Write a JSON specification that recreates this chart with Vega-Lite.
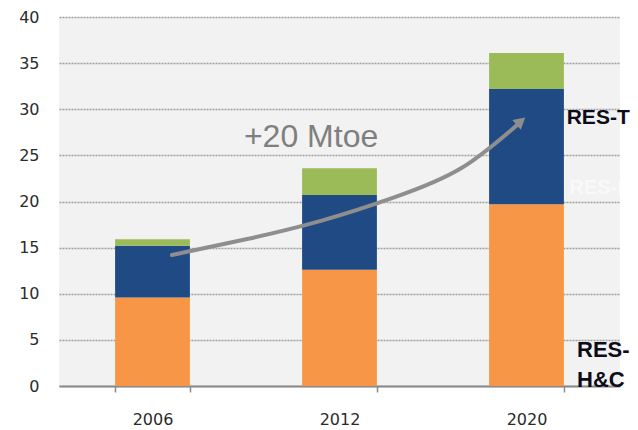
{
  "$schema": "https://vega.github.io/schema/vega-lite/v6.json",
  "width": 561,
  "height": 369,
  "autosize": "none",
  "padding": {"left": 59, "top": 17, "right": 18, "bottom": 44},
  "background": "white",
  "view": {"fill": "#f2f2f2", "stroke": null},
  "datasets": {
    "bars": [
      {"year": "2006", "series": "RES-H&C", "ord": 1, "value": 9.6},
      {"year": "2006", "series": "RES-E", "ord": 2, "value": 5.6},
      {"year": "2006", "series": "RES-T", "ord": 3, "value": 0.7},
      {"year": "2012", "series": "RES-H&C", "ord": 1, "value": 12.6},
      {"year": "2012", "series": "RES-E", "ord": 2, "value": 8.1},
      {"year": "2012", "series": "RES-T", "ord": 3, "value": 2.9},
      {"year": "2020", "series": "RES-H&C", "ord": 1, "value": 19.7},
      {"year": "2020", "series": "RES-E", "ord": 2, "value": 12.5},
      {"year": "2020", "series": "RES-T", "ord": 3, "value": 3.9}
    ],
    "arrow": [
      {"px": 0.604, "py": 14.2},
      {"px": 1.0, "py": 15.9},
      {"px": 1.4, "py": 17.9},
      {"px": 1.8, "py": 20.5},
      {"px": 2.15, "py": 23.6},
      {"px": 2.45, "py": 28.3}
    ],
    "head": [{"px": 2.47, "py": 28.7}],
    "notes": [
      {"px": 1.348, "py": 27.0, "label": "+20 Mtoe", "kind": "big"},
      {"px": 2.715, "py": 29.1, "label": "RES-T", "kind": "lab"},
      {"px": 2.73, "py": 21.5, "label": "RES-E", "kind": "faint"},
      {"px": 2.77, "py": 3.9, "label": "RES-", "kind": "lab2"},
      {"px": 2.77, "py": 0.65, "label": "H&C", "kind": "lab2"}
    ]
  },
  "resolve": {"scale": {"x": "independent"}},
  "layer": [
    {
      "data": {"name": "bars"},
      "mark": {"type": "bar"},
      "encoding": {
        "x": {
          "field": "year",
          "type": "nominal",
          "scale": {"paddingInner": 0.6, "paddingOuter": 0.3},
          "axis": {
            "title": null,
            "labelAngle": 0,
            "labelFont": "DejaVu Sans",
            "labelFontSize": 16,
            "labelColor": "#2b2b2b",
            "labelPadding": 19,
            "tickBand": "extent",
            "tickSize": 6,
            "tickColor": "#8a8a8a",
            "domainColor": "#8a8a8a",
            "domainWidth": 2,
            "tickWidth": 1.5
          }
        },
        "y": {
          "field": "value",
          "type": "quantitative",
          "stack": "zero",
          "scale": {"domain": [0, 40], "nice": false},
          "axis": {
            "title": null,
            "values": [0, 5, 10, 15, 20, 25, 30, 35, 40],
            "domain": false,
            "ticks": false,
            "labelPadding": 20,
            "labelFont": "DejaVu Sans",
            "labelFontSize": 16,
            "labelColor": "#2b2b2b",
            "gridColor": "#a0a0a0",
            "gridDash": [2, 1],
            "gridWidth": 1.5
          }
        },
        "color": {
          "field": "series",
          "type": "nominal",
          "scale": {
            "domain": ["RES-H&C", "RES-E", "RES-T"],
            "range": ["#F79646", "#1F4A84", "#9BBB59"]
          },
          "legend": null
        },
        "order": {"field": "ord", "type": "quantitative"}
      }
    },
    {
      "layer": [
        {
          "data": {"name": "arrow"},
          "mark": {"type": "line", "interpolate": "natural", "color": "#8e8e8e", "strokeWidth": 4, "strokeCap": "round"},
          "encoding": {
            "x": {"field": "px", "type": "quantitative", "scale": {"domain": [0, 3], "nice": false, "zero": false}, "axis": null},
            "y": {"field": "py", "type": "quantitative"},
            "order": {"field": "px", "type": "quantitative"}
          }
        },
        {
          "data": {"name": "head"},
          "mark": {"type": "point", "shape": "triangle-right", "filled": true, "color": "#8e8e8e", "opacity": 1, "size": 170, "angle": 320},
          "encoding": {
            "x": {"field": "px", "type": "quantitative", "scale": {"domain": [0, 3], "nice": false, "zero": false}, "axis": null},
            "y": {"field": "py", "type": "quantitative"}
          }
        },
        {
          "data": {"name": "notes"},
          "transform": [{"filter": "datum.kind == 'big'"}],
          "mark": {"type": "text", "font": "Liberation Sans", "fontSize": 32, "color": "#7f7f7f", "align": "center", "baseline": "middle"},
          "encoding": {
            "x": {"field": "px", "type": "quantitative", "scale": {"domain": [0, 3], "nice": false, "zero": false}, "axis": null},
            "y": {"field": "py", "type": "quantitative"},
            "text": {"field": "label"}
          }
        },
        {
          "data": {"name": "notes"},
          "transform": [{"filter": "datum.kind == 'lab'"}],
          "mark": {"type": "text", "font": "Liberation Sans", "fontWeight": "bold", "fontSize": 21, "color": "#0d0d1a", "align": "left", "baseline": "middle"},
          "encoding": {
            "x": {"field": "px", "type": "quantitative", "scale": {"domain": [0, 3], "nice": false, "zero": false}, "axis": null},
            "y": {"field": "py", "type": "quantitative"},
            "text": {"field": "label"}
          }
        },
        {
          "data": {"name": "notes"},
          "transform": [{"filter": "datum.kind == 'lab2'"}],
          "mark": {"type": "text", "font": "Liberation Sans", "fontWeight": "bold", "fontSize": 22, "color": "#0d0d1a", "align": "left", "baseline": "middle"},
          "encoding": {
            "x": {"field": "px", "type": "quantitative", "scale": {"domain": [0, 3], "nice": false, "zero": false}, "axis": null},
            "y": {"field": "py", "type": "quantitative"},
            "text": {"field": "label"}
          }
        },
        {
          "data": {"name": "notes"},
          "transform": [{"filter": "datum.kind == 'faint'"}],
          "mark": {"type": "text", "font": "Liberation Sans", "fontWeight": "bold", "fontSize": 20, "color": "#ffffff", "opacity": 0.6, "align": "left", "baseline": "middle"},
          "encoding": {
            "x": {"field": "px", "type": "quantitative", "scale": {"domain": [0, 3], "nice": false, "zero": false}, "axis": null},
            "y": {"field": "py", "type": "quantitative"},
            "text": {"field": "label"}
          }
        }
      ]
    }
  ]
}
